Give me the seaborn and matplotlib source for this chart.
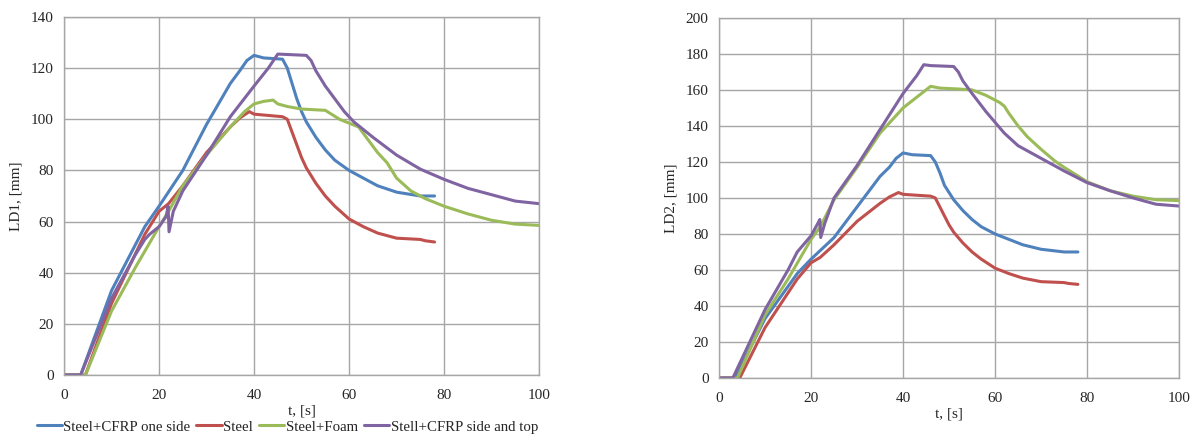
import matplotlib
matplotlib.use("Agg")
import matplotlib.pyplot as plt
import pandas as pd
import seaborn as sns

sns.set_style("white")
plt.rcParams['font.family'] = ['Liberation Serif', 'DejaVu Serif']

# Series names and colours
names = ["Steel+CFRP one side", "Steel", "Steel+Foam", "Stell+CFRP side and top"]
colors = ["#4F81BD", "#C0504D", "#9BBB59", "#8064A2"]

# LD1 (left chart)
t_cfrp1 = [0, 3.5, 10, 17, 20, 25, 30, 35, 37, 38.5, 40, 42, 46, 47, 48, 49, 50, 51, 52, 53, 55, 57, 60, 63, 66, 70, 75, 78]
ld1_cfrp1 = [0, 0, 33, 58, 66, 80, 98, 114, 119, 123, 125, 124, 123.5, 120, 114, 108, 103, 99, 96, 93, 88, 84, 80, 77, 74, 71.5, 70, 70]

t_steel = [0, 4.5, 10, 17, 20, 22, 25, 30, 35, 37, 39, 40, 46, 47, 48, 49, 50, 51, 52, 53, 55, 57, 60, 63, 66, 70, 75, 76, 78]
ld1_steel = [0, 0, 28, 55, 64, 67, 74, 87, 97, 100.5, 103, 102, 101, 100, 95, 90, 85, 81, 78, 75, 70, 66, 61, 58, 55.5, 53.5, 53, 52.5, 52]

t_foam = [0, 4.5, 10, 15, 20, 22, 25, 30, 35, 38, 40, 42, 44, 45, 47, 50, 55, 58, 62, 64, 66, 68, 70, 73, 76, 80, 85, 90, 95, 100]
ld1_foam = [0, 0, 25, 42, 58, 64, 74, 86, 97, 103, 106, 107, 107.5, 106, 105, 104, 103.5, 100, 97, 92, 87, 83, 77, 72, 69, 66, 63, 60.5, 59, 58.5]

t_top = [0, 3.5, 10, 15, 17, 18, 20, 21.5, 21.9, 22.1, 23, 25, 30, 35, 40, 43, 45, 51, 52, 53, 55, 57, 59, 61, 63, 65, 70, 75, 80, 85, 90, 95, 100]
ld1_top = [0, 0, 30, 47, 53, 55, 58, 62, 66, 56, 64, 72, 86, 101, 113, 120, 125.5, 125, 123, 119, 113, 108, 103, 99, 96, 93, 86, 80.5, 76.5, 73, 70.5, 68, 67]

# LD2 (right chart)
t_cfrp2 = [0, 3.5, 10, 17, 20, 25, 30, 35, 37, 38.5, 40, 42, 46, 47, 48, 49, 50, 51, 52, 53, 55, 57, 60, 63, 66, 70, 75, 78]
ld2_cfrp1 = [0, 0, 33, 58, 66, 78, 95, 112, 117, 122, 125, 124, 123.5, 120, 114, 107, 103, 99, 96, 93, 88, 84, 80, 77, 74, 71.5, 70, 70]
ld2_steel = [0, 0, 28, 55, 64, 67, 74, 87, 97, 100.5, 103, 102, 101, 100, 95, 90, 85, 81, 78, 75, 70, 66, 61, 58, 55.5, 53.5, 53, 52.5, 52]
t_foam2 = [0, 4, 10, 15, 20, 22, 25, 30, 35, 40, 43, 46, 48, 52, 55, 58, 61, 62, 63, 65, 67, 70, 73, 75, 80, 85, 90, 95, 100]
ld2_foam = [0, 0, 35, 55, 77, 84, 99, 117, 136, 150, 156, 162, 161, 160.5, 160, 157, 153, 151, 147, 140, 134, 127, 120.5, 117, 109, 104, 101, 99, 98.5]
t_top2 = [0, 3, 10, 15, 17, 18, 20, 21.5, 21.9, 22.1, 23, 25, 30, 35, 40, 43, 44.5, 46, 51, 52, 53, 55, 58, 60, 62, 65, 70, 75, 80, 85, 90, 95, 100]
ld2_top = [0, 0, 38, 60, 70, 73, 79, 86, 88, 78, 86, 100, 118, 138, 158, 168, 174, 173.5, 173, 170, 165, 158, 148, 142, 136, 129, 122, 115, 108.5, 104, 100, 96.5, 95.5]


def make_df(pairs):
    frames = []
    for name, (t, v) in zip(names, pairs):
        frames.append(pd.DataFrame({"t": t, "v": v, "series": name}))
    return pd.concat(frames, ignore_index=True)


df1 = make_df([(t_cfrp1, ld1_cfrp1), (t_steel, ld1_steel), (t_foam, ld1_foam), (t_top, ld1_top)])
df2 = make_df([(t_cfrp2, ld2_cfrp1), (t_steel, ld2_steel), (t_foam2, ld2_foam), (t_top2, ld2_top)])

fig = plt.figure(figsize=(11.95, 4.36), dpi=100)
ax1 = fig.add_axes([0.0536, 0.140, 0.3975, 0.821])
ax2 = fig.add_axes([0.6017, 0.133, 0.385, 0.826])

pal = dict(zip(names, colors))


def style_axis(ax, ymax, ylabel):
    ax.set_xlim(0, 100)
    ax.set_ylim(0, ymax)
    ax.set_xticks(range(0, 101, 20))
    ax.set_yticks(range(0, ymax + 1, 20))
    ax.grid(True, color="#a6a6a6", linewidth=1)
    ax.set_axisbelow(True)
    for s in ax.spines.values():
        s.set_color("#a6a6a6")
        s.set_linewidth(1)
    ax.tick_params(axis="both", labelsize=11, length=4, color="#a6a6a6")
    ax.tick_params(axis="x", pad=6)
    ax.set_xlabel("t, [s]", fontsize=11, labelpad=2)
    ax.set_ylabel(ylabel, fontsize=11, labelpad=6)


sns.lineplot(data=df1, x="t", y="v", hue="series", palette=pal, sort=False,
             estimator=None, linewidth=2.2, ax=ax1, legend=True)
sns.lineplot(data=df2, x="t", y="v", hue="series", palette=pal, sort=False,
             estimator=None, linewidth=2.2, ax=ax2, legend=False)

style_axis(ax1, 140, "LD1, [mm]")
style_axis(ax2, 200, "LD2, [mm]")

handles, labels = ax1.get_legend_handles_labels()
ax1.legend(handles, labels, loc="center", bbox_to_anchor=(0.47, -0.145), ncol=4,
           frameon=False, fontsize=10.7, handlelength=1.7, handletextpad=0.1,
           columnspacing=0.4, borderaxespad=0, borderpad=0)

fig.savefig("out.png", dpi=100)
